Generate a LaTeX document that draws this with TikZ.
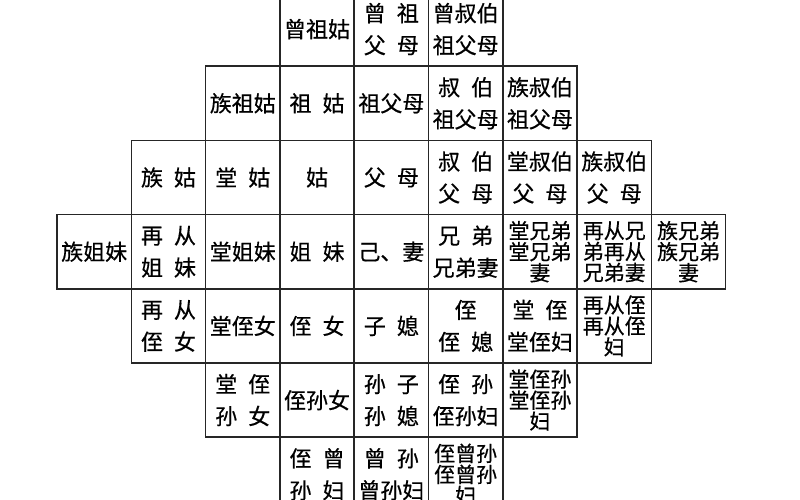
\documentclass[tikz,border=0pt]{standalone}
\usepackage{fontspec}
\newfontfamily\cjk{Noto Sans CJK SC}[FakeBold=0.5]
\newcommand{\cgap}{\hspace{11pt}}

\tikzset{
    kin/.style={draw=black!85, line width=1.5pt, minimum width=74.3pt, minimum height=74.2pt,
        inner sep=0pt, align=center, font=\cjk\fontsize{22}{32}\selectfont},
    kinthree/.style={kin, font=\cjk\fontsize{21}{21}\selectfont}
}

\begin{document}
\begin{tikzpicture}[x=1pt,y=-1pt]
    \useasboundingbox (0,0) rectangle (800,500);
    \clip (0,0) rectangle (800,500);
    \fill[white] (0,0) rectangle (800,500);

    \begin{scope}[shift={(57,-8)},x=74.3pt,y=-74.2pt]
    % great-grandparents
    \node[kin] (r0c3) at (3.5,0.5) {曾祖姑};
    \node[kin] (r0c4) at (4.5,0.5) {曾\cgap 祖\\父\cgap 母};
    \node[kin] (r0c5) at (5.5,0.5) {曾叔伯\\祖父母};

    % grandparents
    \node[kin] (r1c2) at (2.5,1.5) {族祖姑};
    \node[kin] (r1c3) at (3.5,1.5) {祖\cgap 姑};
    \node[kin] (r1c4) at (4.5,1.5) {祖父母};
    \node[kin] (r1c5) at (5.5,1.5) {叔\cgap 伯\\祖父母};
    \node[kin] (r1c6) at (6.5,1.5) {族叔伯\\祖父母};

    % parents
    \node[kin] (r2c1) at (1.5,2.5) {族\cgap 姑};
    \node[kin] (r2c2) at (2.5,2.5) {堂\cgap 姑};
    \node[kin] (r2c3) at (3.5,2.5) {姑};
    \node[kin] (r2c4) at (4.5,2.5) {父\cgap 母};
    \node[kin] (r2c5) at (5.5,2.5) {叔\cgap 伯\\父\cgap 母};
    \node[kin] (r2c6) at (6.5,2.5) {堂叔伯\\父\cgap 母};
    \node[kin] (r2c7) at (7.5,2.5) {族叔伯\\父\cgap 母};

    % self
    \node[kin] (r3c0) at (0.5,3.5) {族姐妹};
    \node[kin] (r3c1) at (1.5,3.5) {再\cgap 从\\姐\cgap 妹};
    \node[kin] (r3c2) at (2.5,3.5) {堂姐妹};
    \node[kin] (r3c3) at (3.5,3.5) {姐\cgap 妹};
    \node[kin] (r3c4) at (4.5,3.5) {己、妻};
    \node[kin] (r3c5) at (5.5,3.5) {兄\cgap 弟\\兄弟妻};
    \node[kinthree] (r3c6) at (6.5,3.5) {堂兄弟\\堂兄弟\\妻};
    \node[kinthree] (r3c7) at (7.5,3.5) {再从兄\\弟再从\\兄弟妻};
    \node[kinthree] (r3c8) at (8.5,3.5) {族兄弟\\族兄弟\\妻};

    % children
    \node[kin] (r4c1) at (1.5,4.5) {再\cgap 从\\侄\cgap 女};
    \node[kin] (r4c2) at (2.5,4.5) {堂侄女};
    \node[kin] (r4c3) at (3.5,4.5) {侄\cgap 女};
    \node[kin] (r4c4) at (4.5,4.5) {子\cgap 媳};
    \node[kin] (r4c5) at (5.5,4.5) {侄\\侄\cgap 媳};
    \node[kin] (r4c6) at (6.5,4.5) {堂\cgap 侄\\堂侄妇};
    \node[kinthree] (r4c7) at (7.5,4.5) {再从侄\\再从侄\\妇};

    % grandchildren
    \node[kin] (r5c2) at (2.5,5.5) {堂\cgap 侄\\孙\cgap 女};
    \node[kin] (r5c3) at (3.5,5.5) {侄孙女};
    \node[kin] (r5c4) at (4.5,5.5) {孙\cgap 子\\孙\cgap 媳};
    \node[kin] (r5c5) at (5.5,5.5) {侄\cgap 孙\\侄孙妇};
    \node[kinthree] (r5c6) at (6.5,5.5) {堂侄孙\\堂侄孙\\妇};

    % great-grandchildren
    \node[kin] (r6c3) at (3.5,6.5) {侄\cgap 曾\\孙\cgap 妇};
    \node[kin] (r6c4) at (4.5,6.5) {曾\cgap 孙\\曾孙妇};
    \node[kinthree] (r6c5) at (5.5,6.5) {侄曾孙\\侄曾孙\\妇};
    \end{scope}
\end{tikzpicture}
\end{document}
